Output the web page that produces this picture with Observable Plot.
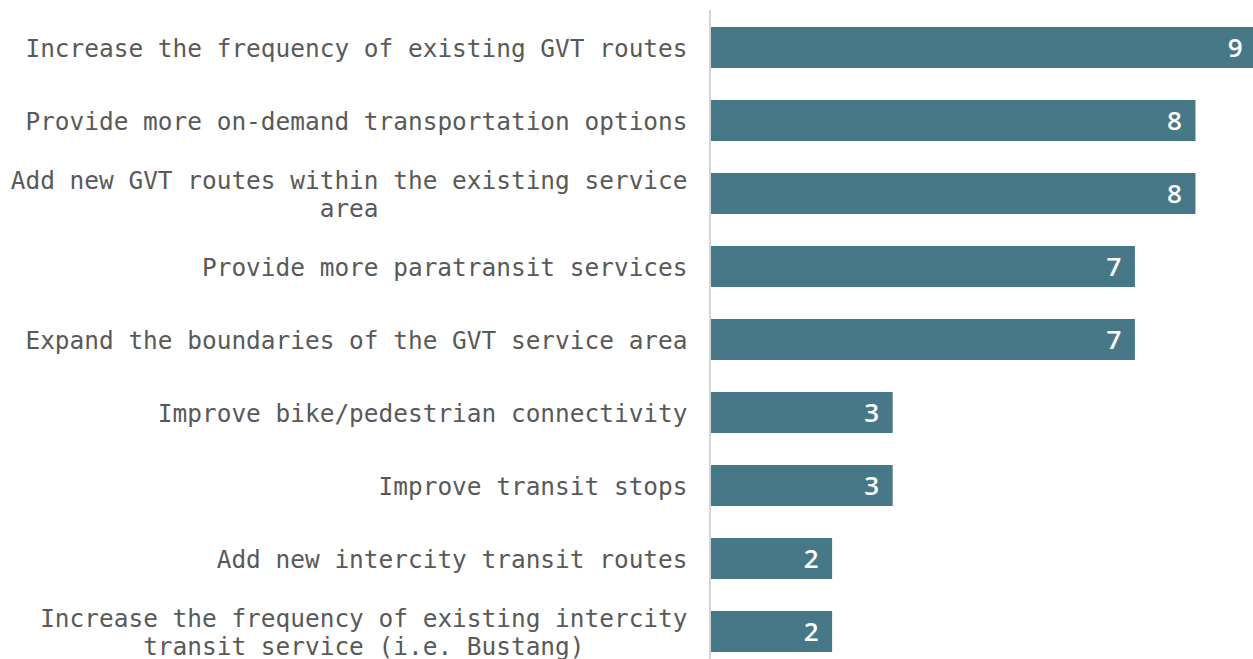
<!DOCTYPE html>
<html>
<head>
<meta charset="utf-8">
<script src="https://cdn.jsdelivr.net/npm/d3@7"></script>
<script src="https://cdn.jsdelivr.net/npm/@observablehq/plot@0.6"></script>
<style>
  html, body { margin: 0; padding: 0; background: #ffffff; }
  svg { display: block; }
</style>
</head>
<body>
<div id="chart"></div>
<script>
const categories = [
  "Increase the frequency of existing GVT routes",
  "Provide more on-demand transportation options",
  "Add new GVT routes within the existing service\narea",
  "Provide more paratransit services",
  "Expand the boundaries of the GVT service area",
  "Improve bike/pedestrian connectivity",
  "Improve transit stops",
  "Add new intercity transit routes",
  "Increase the frequency of existing intercity\ntransit service (i.e. Bustang)"
];
const values = [9, 8, 8, 7, 7, 3, 3, 2, 2];

const data = categories.map((c, i) => ({cat: c, value: values[i]}));

const chart = Plot.plot({
  width: 1253,
  height: 659,
  marginLeft: 711,
  marginRight: 0,
  marginTop: 10,
  marginBottom: 0,
  style: {background: "#ffffff"},
  x: {domain: [0, 8.95], axis: null},
  y: {domain: categories, range: [11, 668], paddingInner: 0.44, paddingOuter: 0.22, axis: null},
  marks: [
    Plot.ruleX([0], {stroke: "#d4d4d4", strokeWidth: 2, dx: -1.5}),
    Plot.barX(data, {x: "value", y: "cat", fill: "#477887"}),
    Plot.text(data, {
      x: "value", y: "cat", text: d => String(d.value),
      textAnchor: "end", dx: -14, dy: 1, fill: "#ffffff",
      fontWeight: 600, fontSize: 26, fontFamily: "Open Sans"
    }),
    Plot.text(data, {
      x: 0, y: "cat", text: "cat",
      textAnchor: "end", dx: -24, fill: "#595959",
      fontSize: 24.45, fontFamily: "DejaVu Sans Mono", lineHeight: 1.15
    })
  ]
});

document.getElementById("chart").appendChild(chart);

// Center multi-line category labels within their right-aligned block
const groups = chart.querySelectorAll('g[aria-label="text"]');
const labelGroup = groups[groups.length - 1];
labelGroup.querySelectorAll("text").forEach(t => {
  const spans = t.querySelectorAll("tspan");
  let W;
  if (spans.length) {
    W = d3.max(Array.from(spans), s => s.getComputedTextLength());
    t.setAttribute("text-anchor", "middle");
    spans.forEach(s => s.setAttribute("x", -W / 2));
  } else {
    W = t.getComputedTextLength();
    t.setAttribute("text-anchor", "middle");
    t.setAttribute("x", -W / 2);
  }
});
</script>
</body>
</html>
